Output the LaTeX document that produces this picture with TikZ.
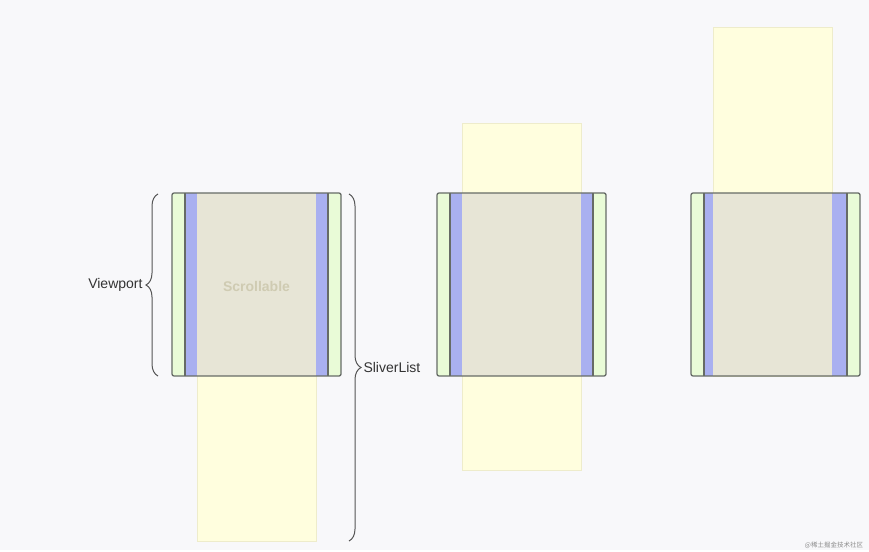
\documentclass[tikz,border=0pt]{standalone}
\usepackage{fontspec}
\setmainfont{Liberation Sans}
\newfontfamily\cjk{Noto Sans CJK SC}
\usetikzlibrary{decorations.pathreplacing,calc}
\definecolor{bgpage}{HTML}{F8F8FA}
\definecolor{scrollfill}{HTML}{FFFEDE}
\definecolor{scrolledge}{HTML}{EEECCB}
\definecolor{padgreen}{HTML}{E9FBD7}
\definecolor{sliverblue}{HTML}{A9B0F0}
\definecolor{overlap}{HTML}{E7E5D6}
\definecolor{frame}{HTML}{666B66}
\definecolor{bracegray}{HTML}{555555}
\definecolor{ghost}{HTML}{CFCBB2}

\begin{document}
\begin{tikzpicture}[x=1pt,y=-1pt,font=\fontsize{14}{16}\selectfont,
  scroll/.style={fill=scrollfill,draw=scrolledge,line width=0.5pt},
  frameline/.style={draw=frame,line width=1.3pt},
  brace/.style={decorate,decoration={brace,amplitude=12pt},draw=bracegray,line width=1pt},
  label/.style={inner sep=0pt,text=black!80}]
\fill[bgpage] (0,0) rectangle (869,550);
% three scroll positions
\foreach \n/\x/\sa/\sb/\st/\sd in {1/172/197/316/194/541,2/437/462/581/123/470,3/691/713/832/27/376}{
  \path[scroll] (\sa,\st) rectangle (\sb,\sd);
  \fill[padgreen] (\x,193) rectangle ++(169,183);
  \fill[sliverblue] (\x+13,193) rectangle (\x+156,376);
  \fill[overlap] (\sa,193) rectangle (\sb,376);
  \draw[frameline] (\x+13,193) -- (\x+13,376) (\x+156,193) -- (\x+156,376);
  \draw[frameline,rounded corners=2pt] (\x,193) rectangle (\x+169,376);
}
\node[font=\bfseries\fontsize{14}{16}\selectfont,text=ghost] (scrollable) at (256.5,286) {Scrollable};
% braces
\coordinate (vpTop) at (158,194);
\coordinate (vpBot) at (158,376);
\coordinate (slTop) at (349,194);
\coordinate (slBot) at (349,541);
\draw[brace] (vpBot) -- (vpTop) node[midway,left=15pt,label] (viewport) {Viewport};
\draw[brace] (slTop) -- (slBot) node[midway,right=14pt,label] (sliverlist) {SliverList};
\node[text=black!45,font=\cjk\fontsize{6.5}{7}\selectfont] (mark) at (834,545) {@稀土掘金技术社区};
\end{tikzpicture}
\end{document}
